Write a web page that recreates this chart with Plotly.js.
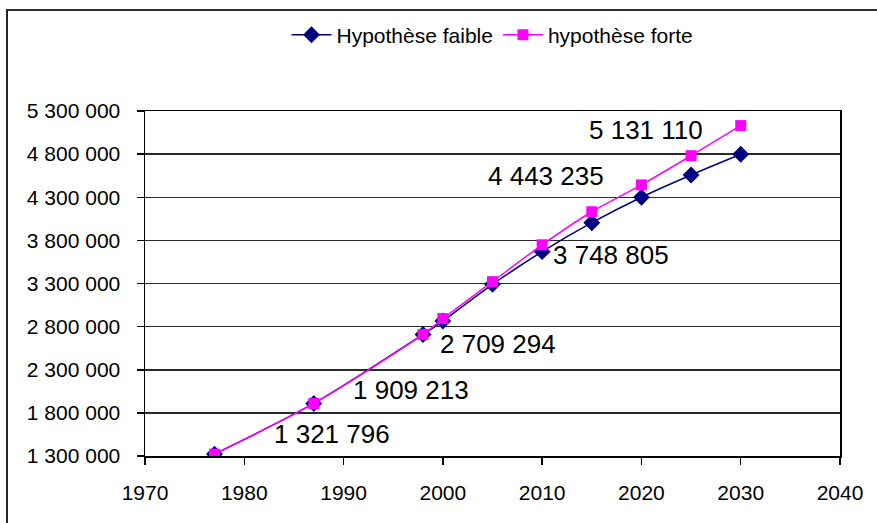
<!DOCTYPE html>
<html>
<head>
<meta charset="utf-8">
<script src="https://cdn.plot.ly/plotly-3.0.1.min.js"></script>
<style>
  html, body { margin: 0; padding: 0; background: #fff; }
  #wrap { position: relative; width: 877px; height: 523px; }
  #chart { width: 877px; height: 523px; }
  #frame { position: absolute; left: 6px; top: 9px; width: 900px; height: 600px;
           border-left: 2px solid #222; border-top: 2px solid #333; pointer-events: none; }
</style>
</head>
<body>
<div id="wrap">
  <div id="chart"></div>
  <div id="frame"></div>
</div>
<script>
// Years of the series
const years = [1977, 1987, 1998, 2000, 2005, 2010, 2015, 2020, 2025, 2030];
// Hypothèse faible (low projection)
const faible = [1321796, 1909213, 2709294, 2865000, 3290000, 3669000, 4005000, 4300000, 4558000, 4798000];
// hypothèse forte (high projection)
const forte = [1321796, 1909213, 2709294, 2893000, 3321000, 3748805, 4132000, 4443235, 4782000, 5131110];
// Series names
const seriesNames = ["Hypothèse faible", "hypothèse forte"];
// Data labels (year, value)
const labelYears = [1977, 1987, 1998, 2010, 2020, 2030];
const labelValues = [1321796, 1909213, 2709294, 3748805, 4443235, 5131110];
// Axis ticks
const yTicks = [1300000, 1800000, 2300000, 2800000, 3300000, 3800000, 4300000, 4800000, 5300000];
const xTicks = [1970, 1980, 1990, 2000, 2010, 2020, 2030, 2040];

// label pixel offsets (style only)
const labelShift = [[117, -20], [97, -13], [75, 10], [69, 10], [-95, -9], [-95, 4]];

function fmt(v) { return String(v).replace(/\B(?=(\d{3})+(?!\d))/g, " "); }

const FONT = "Liberation Sans, Arial, sans-serif";

const traces = [
  {
    x: years, y: faible, name: seriesNames[0], type: "scatter", mode: "lines+markers",
    line: { color: "#000080", width: 1.5, shape: "spline", smoothing: 0.8 },
    marker: { symbol: "diamond", size: 13, color: "#000080" }
  },
  {
    x: years, y: forte, name: seriesNames[1], type: "scatter", mode: "lines+markers",
    line: { color: "#FF00FF", width: 1.5, shape: "spline", smoothing: 0.8 },
    marker: { symbol: "square", size: 11, color: "#FF00FF" }
  }
];

const annotations = labelYears.map((yr, i) => ({
  x: yr, y: labelValues[i], xref: "x", yref: "y",
  text: fmt(labelValues[i]), showarrow: false,
  xshift: labelShift[i][0], yshift: -labelShift[i][1],
  font: { family: FONT, size: 26, color: "#000" }
}));

const layout = {
  width: 877, height: 523,
  margin: { l: 145, r: 37, t: 111, b: 67 },
  paper_bgcolor: "#fff", plot_bgcolor: "#fff",
  separators: ", ",
  font: { family: FONT, size: 21, color: "#000" },
  showlegend: true,
  legend: {
    orientation: "h", x: 0.5, xanchor: "center", y: 1.22, yanchor: "middle",
    font: { family: FONT, size: 21, color: "#000" }, bgcolor: "rgba(0,0,0,0)",
    itemwidth: 40
  },
  xaxis: {
    range: [1970, 2040], tickvals: xTicks, ticktext: xTicks.map(String),
    showgrid: false, zeroline: false,
    showline: true, linecolor: "#000", linewidth: 1.5, mirror: true,
    ticks: "outside", ticklen: 7, tickcolor: "#000", tickwidth: 1.5,
    ticklabelstandoff: 10,
    tickfont: { family: FONT, size: 21, color: "#000" }
  },
  yaxis: {
    range: [1300000, 5300000], tickvals: yTicks, ticktext: yTicks.map(fmt),
    showgrid: true, gridcolor: "#2a2a2a", gridwidth: 1.5, zeroline: false,
    showline: true, linecolor: "#000", linewidth: 1.5, mirror: true,
    ticks: "outside", ticklen: 7, tickcolor: "#000", tickwidth: 1.5,
    ticklabelstandoff: 12,
    tickfont: { family: FONT, size: 21, color: "#000" }
  },
  annotations: annotations
};

Plotly.newPlot("chart", traces, layout, { displayModeBar: false, staticPlot: true });
</script>
</body>
</html>
